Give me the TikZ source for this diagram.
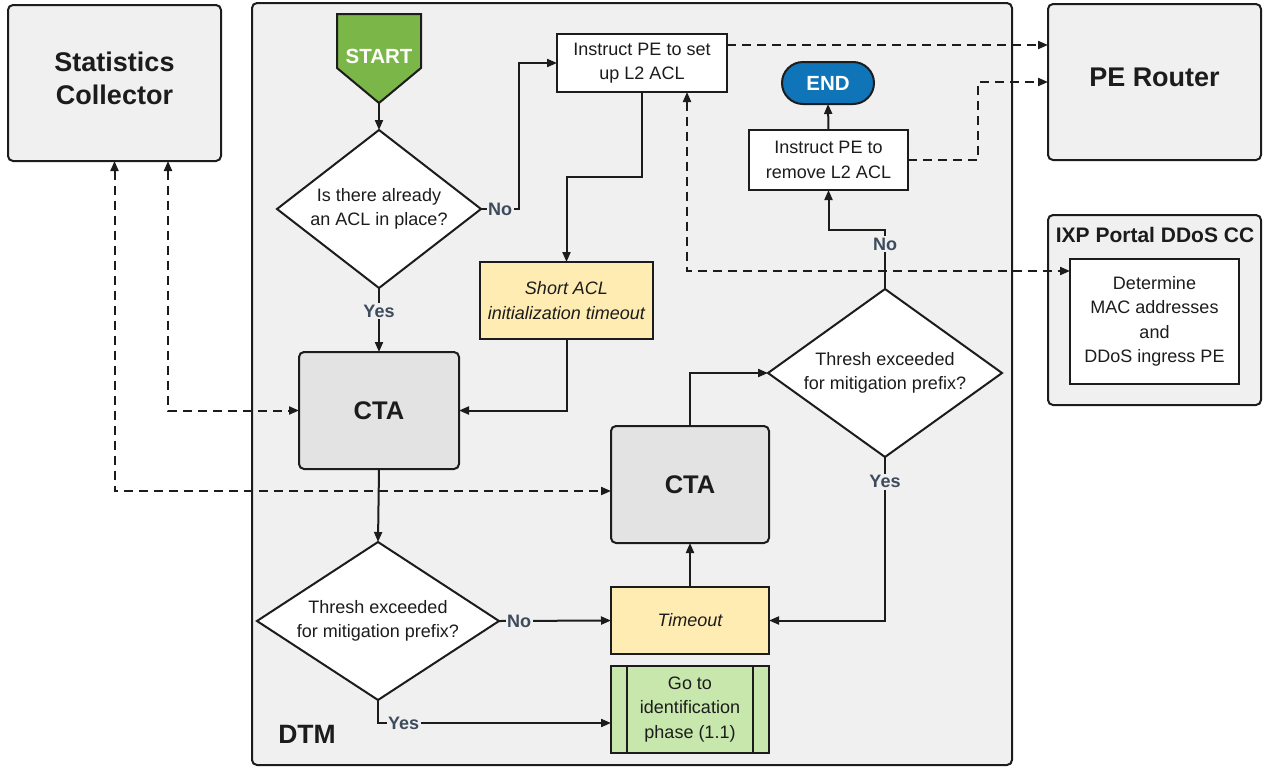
\documentclass[tikz,border=0pt]{standalone}
\usepackage{fontspec}
\setmainfont{Liberation Sans}
\usetikzlibrary{shapes.geometric,arrows.meta,calc}

\definecolor{ink}{RGB}{28,28,28}
\definecolor{panel}{RGB}{240,240,240}
\definecolor{ctagray}{RGB}{227,227,227}
\definecolor{waityellow}{RGB}{254,236,178}
\definecolor{gogreen}{RGB}{199,231,172}
\definecolor{startgreen}{RGB}{122,182,72}
\definecolor{endblue}{RGB}{16,116,184}
\definecolor{lblgray}{RGB}{62,75,92}

\begin{document}
\begin{tikzpicture}[x=1pt,y=-1pt,
  every node/.style={inner sep=0pt, outer sep=0pt, align=center,
    font=\fontsize{18}{24.5}\selectfont, text=ink},
  panelbox/.style={draw=ink, line width=2pt, fill=panel, rounded corners=5pt},
  procbox/.style={draw=ink, line width=2pt, fill=white},
  ctabox/.style={draw=ink, line width=2pt, fill=ctagray, rounded corners=5pt,
    font=\bfseries\fontsize{25.5}{30}\selectfont},
  waitbox/.style={draw=ink, line width=2pt, fill=waityellow,
    font=\itshape\fontsize{18}{24.5}\selectfont},
  gobox/.style={draw=ink, line width=2pt, fill=gogreen},
  decision/.style={diamond, draw=ink, line width=2pt, fill=white},
  flow/.style={draw=ink, line width=2pt, -{Triangle[length=10pt,width=8pt]}},
  dflow/.style={draw=ink, line width=2pt, dash pattern=on 9pt off 6pt,
    -{Triangle[length=10pt,width=8pt]}},
  ddflow/.style={dflow, {Triangle[length=10pt,width=8pt]}-{Triangle[length=10pt,width=8pt]}},
  lbl/.style={fill=panel, inner sep=1.5pt, text=lblgray,
    font=\bfseries\fontsize{18}{20}\selectfont},
  title/.style={font=\bfseries\fontsize{27}{33}\selectfont},
]
\useasboundingbox (0,0) rectangle (1266,766);

% outer containers
\node[panelbox, minimum width=213pt, minimum height=156pt] (stats) at (114.5,83) {};
\node[title] (statsname) at (114.5,78) {Statistics\\Collector};
\node[panelbox, minimum width=760pt, minimum height=762pt] (dtm) at (632,384) {};
\node[font=\bfseries\fontsize{26.5}{30}\selectfont] (dtmname) at (307,734) {DTM};
\node[panelbox, minimum width=213pt, minimum height=156pt] (pe) at (1154.5,82) {};
\node[title] (pename) at (1154.5,77) {PE Router};
\node[panelbox, minimum width=213pt, minimum height=190pt] (ixp) at (1154.5,310) {};
\node[font=\bfseries\fontsize{21}{25}\selectfont] (ixpname) at (1155,235) {IXP Portal DDoS CC};
\node[procbox, minimum width=169pt, minimum height=125pt] (det) at (1154.5,321.5)
  {Determine\\MAC addresses\\and\\DDoS ingress PE};

% start terminal
\draw[draw=ink, line width=2pt, fill=startgreen]
  (337,14) -- (421,14) -- (421,68) -- (379,103) -- (337,68) -- cycle;
\node[text=white, font=\bfseries\fontsize{20.5}{24}\selectfont] (start) at (379,56) {START};
\coordinate (starttip) at (379,103);

% flow elements
\node[decision, aspect=1.29, minimum width=204pt, minimum height=158pt] (d1) at (379,209)
  {Is there already\\an ACL in place?};
\node[procbox, minimum width=170pt, minimum height=58pt] (setup) at (642,63)
  {Instruct PE to set\\up L2 ACL};
\node[waitbox, minimum width=173pt, minimum height=77pt] (short) at (566.5,300.5)
  {Short ACL\\initialization timeout};
\node[ctabox, minimum width=160pt, minimum height=117pt] (cta1) at (379,410.5) {CTA};
\node[ctabox, minimum width=158pt, minimum height=117pt] (cta2) at (690,484.5) {CTA};
\node[decision, aspect=1.39, minimum width=234pt, minimum height=168pt] (d2) at (885,373)
  {Thresh exceeded\\for mitigation prefix?};
\node[decision, aspect=1.53, minimum width=242pt, minimum height=158pt] (d3) at (378,621)
  {Thresh exceeded\\for mitigation prefix?};
\node[waitbox, minimum width=158pt, minimum height=67pt] (timeout) at (690,620.5) {Timeout};
\node[gobox, minimum width=158pt, minimum height=87pt] (goid) at (690,709.5)
  {Go to\\identification\\phase (1.1)};
\draw[draw=ink, line width=2pt]
  ($(goid.north west)+(16,0)$) -- ($(goid.south west)+(16,0)$)
  ($(goid.north east)+(-16,0)$) -- ($(goid.south east)+(-16,0)$);
\node[procbox, minimum width=159pt, minimum height=60pt] (remove) at (828.5,160)
  {Instruct PE to\\remove L2 ACL};
\node[draw=ink, line width=2pt, fill=endblue, rounded corners=21pt,
  minimum width=92pt, minimum height=42pt, text=white,
  font=\bfseries\fontsize{20.5}{24}\selectfont] (endn) at (828,83) {END};

% solid flow connectors
\draw[flow] (starttip) -- (d1.north);
\draw[flow] (d1.east) -- node[lbl]{No} ++(38,0) |- (setup.west);
\draw[flow] (setup.south) -- ++(0,85) -| (short.north);
\draw[flow] (short.south) |- (cta1.east);
\draw[flow] (d1.south) -- node[lbl, pos=0.36]{Yes} (cta1.north);
\draw[flow] (cta1.south) -- (d3.north);
\draw[flow] (d3.east) -- node[lbl, pos=0.18]{No} (timeout.west);
\draw[flow] (d3.south) -- ++(0,23) coordinate (yesbend)
  -- node[lbl, pos=0.11]{Yes} (yesbend -| goid.west);
\draw[flow] (timeout.north) -- (cta2.south);
\draw[flow] (cta2.north) |- (d2.west);
\draw[flow] (d2.south) |- node[lbl, pos=0.076]{Yes} (timeout.east);
\draw[flow] (d2.north) -- node[lbl, pos=0.76]{No} ++(0,-59) -| (remove.south);
\draw[flow] (remove.north) -- (endn.south);

% dashed signalling connectors
\draw[dflow] ($(setup.north east)+(0,11)$) coordinate (s1) -- (s1 -| pe.west);
\draw[dflow] (remove.east) -- ++(70,0) |- ($(pe.north west)+(0,78)$);
\coordinate (detbend) at (687,271);
\draw[ddflow] (setup.south -| detbend) -- (detbend) -- (detbend -| det.west);
\coordinate (statbend) at (168,410.5);
\draw[ddflow] (stats.south -| statbend) -- (statbend) -- (cta1.west);
\coordinate (ctabend) at (114.5,491);
\draw[ddflow] (stats.south) -- (ctabend) -- (ctabend -| cta2.west);
\end{tikzpicture}
\end{document}
